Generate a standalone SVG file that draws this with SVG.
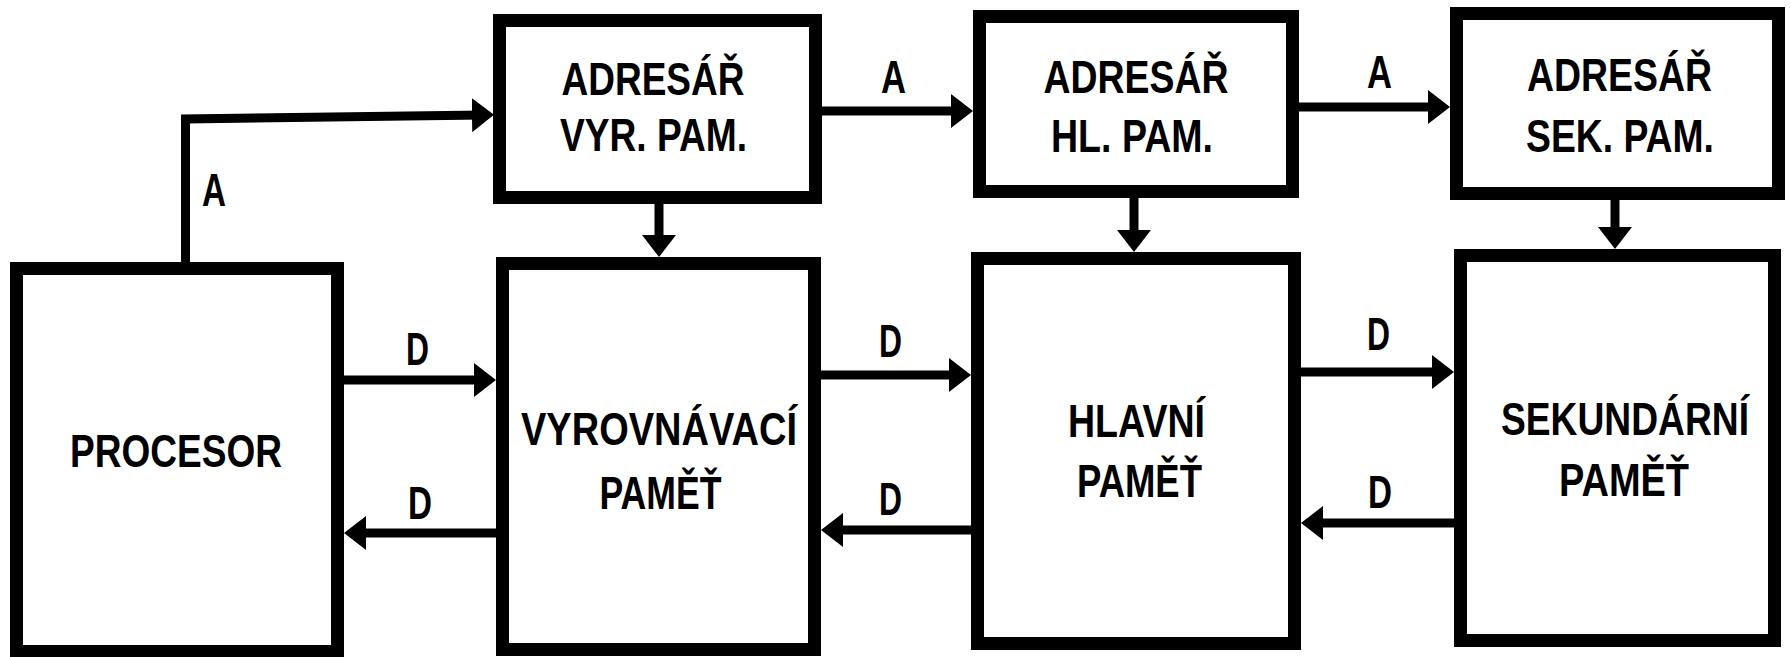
<svg xmlns="http://www.w3.org/2000/svg" width="1791" height="657" viewBox="0 0 1791 657">
<style>
.box{fill:#fff;stroke:#000;stroke-width:13;stroke-linejoin:miter}
.t{font-family:"Liberation Sans",Arial,sans-serif;font-weight:bold;font-size:47px;fill:#000;text-anchor:middle}
.c{fill:none;stroke:#000;stroke-width:9;stroke-linejoin:miter}
</style>
<defs>
<marker id="ah" markerUnits="userSpaceOnUse" markerWidth="22" markerHeight="34" viewBox="0 0 22 34" refX="12" refY="17" orient="auto">
<path d="M0,0 L22,17 L0,34 Z" fill="#000"/>
</marker>
</defs>
<rect width="1791" height="657" fill="#fff"/>
<g id="procesor">
<rect class="box" x="16.5" y="268.5" width="321" height="383"/>
<text class="t" x="176" y="467" textLength="212" lengthAdjust="spacingAndGlyphs">PROCESOR</text>
</g>
<g id="adresar-vyr">
<rect class="box" x="499.5" y="20.5" width="316" height="177"/>
<text class="t" x="653" y="95" textLength="183" lengthAdjust="spacingAndGlyphs">ADRESÁŘ</text>
<text class="t" x="653.5" y="151" textLength="187" lengthAdjust="spacingAndGlyphs">VYR. PAM.</text>
</g>
<g id="vyrovnavaci">
<rect class="box" x="502.5" y="263.5" width="312" height="386"/>
<text class="t" x="659" y="445" textLength="276" lengthAdjust="spacingAndGlyphs">VYROVNÁVACÍ</text>
<text class="t" x="660.5" y="509" textLength="122" lengthAdjust="spacingAndGlyphs">PAMĚŤ</text>
</g>
<g id="adresar-hl">
<rect class="box" x="979.5" y="16.5" width="313" height="175"/>
<text class="t" x="1136" y="93" textLength="185" lengthAdjust="spacingAndGlyphs">ADRESÁŘ</text>
<text class="t" x="1132" y="152" textLength="162" lengthAdjust="spacingAndGlyphs">HL. PAM.</text>
</g>
<g id="hlavni">
<rect class="box" x="977.5" y="258.5" width="317" height="385"/>
<text class="t" x="1136.5" y="437" textLength="137" lengthAdjust="spacingAndGlyphs">HLAVNÍ</text>
<text class="t" x="1139.5" y="497" textLength="125" lengthAdjust="spacingAndGlyphs">PAMĚŤ</text>
</g>
<g id="adresar-sek">
<rect class="box" x="1456.5" y="13.5" width="322" height="180"/>
<text class="t" x="1619.5" y="91" textLength="185" lengthAdjust="spacingAndGlyphs">ADRESÁŘ</text>
<text class="t" x="1620" y="152" textLength="188" lengthAdjust="spacingAndGlyphs">SEK. PAM.</text>
</g>
<g id="sekundarni">
<rect class="box" x="1460.5" y="255.5" width="314" height="385"/>
<text class="t" x="1625" y="435" textLength="248" lengthAdjust="spacingAndGlyphs">SEKUNDÁRNÍ</text>
<text class="t" x="1624" y="496" textLength="130" lengthAdjust="spacingAndGlyphs">PAMĚŤ</text>
</g>
<g id="connectors">
<path class="c" d="M185.5,262 L185.5,119 L484,115" marker-end="url(#ah)"/>
<path class="c" d="M822,111 H963" marker-end="url(#ah)"/>
<path class="c" d="M1299,107 H1440" marker-end="url(#ah)"/>
<path class="c" d="M659,204 V247" marker-end="url(#ah)"/>
<path class="c" d="M1134,198 V242" marker-end="url(#ah)"/>
<path class="c" d="M1615,200 V239" marker-end="url(#ah)"/>
<path class="c" d="M344,380 H486" marker-end="url(#ah)"/>
<path class="c" d="M496,533 H354" marker-end="url(#ah)"/>
<path class="c" d="M821,375 H961" marker-end="url(#ah)"/>
<path class="c" d="M971,530 H831" marker-end="url(#ah)"/>
<path class="c" d="M1301,372 H1444" marker-end="url(#ah)"/>
<path class="c" d="M1454,523 H1311" marker-end="url(#ah)"/>
<text class="t" x="214" y="206" textLength="24" lengthAdjust="spacingAndGlyphs">A</text>
<text class="t" x="893.5" y="93" textLength="25" lengthAdjust="spacingAndGlyphs">A</text>
<text class="t" x="1379.5" y="88" textLength="25" lengthAdjust="spacingAndGlyphs">A</text>
<text class="t" x="417.5" y="365" textLength="23" lengthAdjust="spacingAndGlyphs">D</text>
<text class="t" x="420" y="519" textLength="24" lengthAdjust="spacingAndGlyphs">D</text>
<text class="t" x="890.5" y="357" textLength="23" lengthAdjust="spacingAndGlyphs">D</text>
<text class="t" x="890.5" y="515" textLength="23" lengthAdjust="spacingAndGlyphs">D</text>
<text class="t" x="1378.5" y="350" textLength="23" lengthAdjust="spacingAndGlyphs">D</text>
<text class="t" x="1380" y="508" textLength="24" lengthAdjust="spacingAndGlyphs">D</text>
</g>
</svg>
